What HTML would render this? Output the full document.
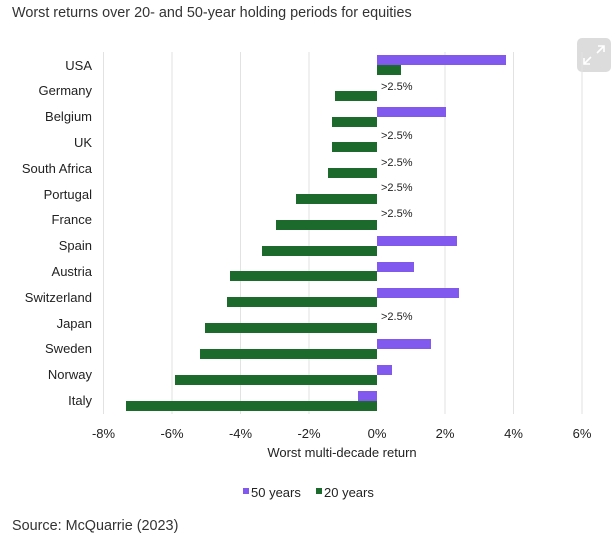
<!DOCTYPE html>
<html><head><style>
body{margin:0;width:613px;height:536px;background:#fff;overflow:hidden;font-family:"Liberation Sans",sans-serif;}
</style></head><body>
<svg width="613" height="536" xmlns="http://www.w3.org/2000/svg" font-family="Liberation Sans, sans-serif">
<text x="12" y="17" font-size="14.4" fill="#333">Worst returns over 20- and 50-year holding periods for equities</text>
<text x="12" y="530" font-size="14.4" fill="#333">Source: McQuarrie (2023)</text>
<rect x="577" y="38" width="34" height="34" rx="5" fill="#dcdcdc"/>
<path d="M598 46h6v6M604 46l-7 7M590 64h-6v-6M584 64l7-7" stroke="#fff" stroke-width="1.6" fill="none"/>
<g stroke="#e2e2e2" stroke-width="1">
<line x1="103.5" y1="52" x2="103.5" y2="414"/><line x1="172" y1="52" x2="172" y2="414"/>
<line x1="240.5" y1="52" x2="240.5" y2="414"/><line x1="309" y1="52" x2="309" y2="414"/>
<line x1="445" y1="52" x2="445" y2="414"/><line x1="513.5" y1="52" x2="513.5" y2="414"/>
<line x1="582" y1="52" x2="582" y2="414"/>
</g>
<g font-size="13" fill="#222" text-anchor="end">
<text x="92" y="70">USA</text><text x="92" y="95">Germany</text><text x="92" y="121">Belgium</text>
<text x="92" y="147">UK</text><text x="92" y="173">South Africa</text><text x="92" y="199">Portugal</text>
<text x="92" y="224">France</text><text x="92" y="250">Spain</text><text x="92" y="276">Austria</text>
<text x="92" y="302">Switzerland</text><text x="92" y="328">Japan</text><text x="92" y="353">Sweden</text>
<text x="92" y="379">Norway</text><text x="92" y="405">Italy</text>
</g>
<g fill="#8159ee">
<rect x="377" y="55" width="129" height="10"/>
<rect x="377" y="107" width="69" height="10"/>
<rect x="377" y="236" width="80" height="10"/>
<rect x="377" y="262" width="37" height="10"/>
<rect x="377" y="288" width="82" height="10"/>
<rect x="377" y="339" width="54" height="10"/>
<rect x="377" y="365" width="15" height="10"/>
<rect x="358" y="391" width="19" height="10"/>
</g>
<g fill="#1c6b2c">
<rect x="377" y="65" width="24" height="10"/>
<rect x="335" y="91" width="42" height="10"/>
<rect x="332" y="117" width="45" height="10"/>
<rect x="332" y="142" width="45" height="10"/>
<rect x="328" y="168" width="49" height="10"/>
<rect x="296" y="194" width="81" height="10"/>
<rect x="276" y="220" width="101" height="10"/>
<rect x="262" y="246" width="115" height="10"/>
<rect x="230" y="271" width="147" height="10"/>
<rect x="227" y="297" width="150" height="10"/>
<rect x="205" y="323" width="172" height="10"/>
<rect x="200" y="349" width="177" height="10"/>
<rect x="175" y="375" width="202" height="10"/>
<rect x="126" y="401" width="251" height="10"/>
</g>
<g font-size="11" fill="#222">
<text x="381" y="90">&gt;2.5%</text><text x="381" y="139">&gt;2.5%</text>
<text x="381" y="166">&gt;2.5%</text><text x="381" y="191">&gt;2.5%</text>
<text x="381" y="217">&gt;2.5%</text><text x="381" y="320">&gt;2.5%</text>
</g>
<g font-size="13" fill="#222" text-anchor="middle">
<text x="103.5" y="438">-8%</text><text x="172" y="438">-6%</text><text x="240.5" y="438">-4%</text>
<text x="309" y="438">-2%</text><text x="377" y="438">0%</text><text x="445" y="438">2%</text>
<text x="513.5" y="438">4%</text><text x="582" y="438">6%</text>
<text x="342" y="457">Worst multi-decade return</text>
</g>
<rect x="243" y="488" width="6" height="6" fill="#8159ee"/>
<text x="251" y="497" font-size="13" fill="#222">50 years</text>
<rect x="316" y="488" width="6" height="6" fill="#1c6b2c"/>
<text x="324" y="497" font-size="13" fill="#222">20 years</text>
</svg>
</body></html>
